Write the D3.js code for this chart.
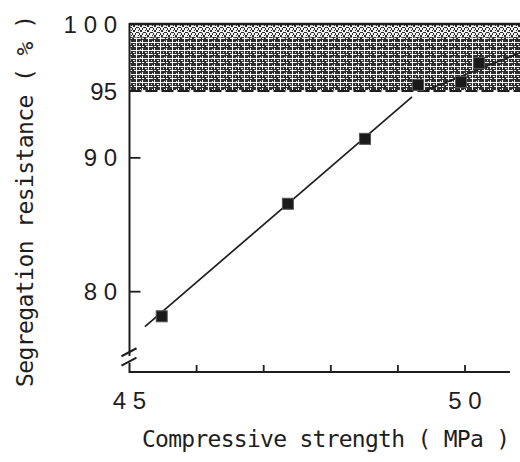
<!DOCTYPE html>
<html><head><meta charset="utf-8">
<script src="https://cdn.jsdelivr.net/npm/d3@7"></script>
<style>
html,body{margin:0;padding:0;background:#fff;}
svg{display:block;}
text{fill:#1e1e1e;}
</style></head>
<body>
<svg id="chart" width="520" height="462"></svg>
<script>
// ---- data ----
const strength   = [45.48, 47.36, 48.51, 49.30, 49.94, 50.21];   // MPa
const resistance = [78.16, 86.57, 91.42, 95.45, 95.67, 97.09];   // %
const fit1X = [45.23, 49.21];
const fit1Y = [77.39, 94.55];
const fit2X = [49.43, 50.82];
const fit2Y = [95.07, 97.84];
const bandLow = 95, bandHigh = 100;
const yTickValues = [100, 95, 90, 80];
const yTickLabels = ["1 0 0", "95", "9 0", "8 0"];
const xTickValues = [46, 47, 48, 49, 50];
const xLabelValues = [45, 50];
const xLabelTexts = ["4 5", "5 0"];
const xTitle = "Compressive strength ( MPa )";
const yTitle = "Segregation resistance ( % )";

// ---- scales ----
const x = d3.scaleLinear().domain([45, 50.67]).range([129.5, 510]);
const y = d3.scaleLinear().domain([74, 100]).range([372, 24]);

const svg = d3.select("#chart");
const defs = svg.append("defs");
// grid-like mottled texture for the band
const pat = defs.append("pattern").attr("id","grid").attr("patternUnits","userSpaceOnUse")
  .attr("width",12).attr("height",8);
pat.append("rect").attr("width",12).attr("height",8).attr("fill","#2e2e2e");
[[0,2,12,1],[2,6,7,1],[4,0,1,8],[10,0,1,5],[7,4,1,1],[1,4,2,1],[10,6,2,1],[8,1,1,1]].forEach(r=>{
  pat.append("rect").attr("x",r[0]).attr("y",r[1]).attr("width",r[2]).attr("height",r[3]).attr("fill","#f4f4f4");
});
const pat2 = defs.append("pattern").attr("id","dots").attr("patternUnits","userSpaceOnUse")
  .attr("width",7).attr("height",5);
pat2.append("rect").attr("width",7).attr("height",5).attr("fill","#f2f2f2");
[[0,0,2,2],[3,2,3,1],[2,3,1,2],[5,0,1,1],[6,3,1,2]].forEach(r=>{
  pat2.append("rect").attr("x",r[0]).attr("y",r[1]).attr("width",r[2]).attr("height",r[3]).attr("fill","#2a2a2a");
});

// ---- band ----
svg.append("rect")
  .attr("x", x(45)).attr("y", y(bandHigh))
  .attr("width", x(51) - x(45)).attr("height", y(bandLow) - y(bandHigh))
  .attr("fill", "url(#grid)");
svg.append("rect")
  .attr("x", x(45)).attr("y", y(bandHigh))
  .attr("width", x(51) - x(45)).attr("height", y(99) - y(bandHigh))
  .attr("fill", "url(#dots)");
svg.append("line")
  .attr("x1", x(45)).attr("x2", x(51)).attr("y1", y(bandHigh)).attr("y2", y(bandHigh))
  .attr("stroke", "#1e1e1e").attr("stroke-width", 2.5);
svg.append("line")
  .attr("x1", x(45)).attr("x2", x(51)).attr("y1", y(bandLow)).attr("y2", y(bandLow))
  .attr("stroke", "#1e1e1e").attr("stroke-width", 2).attr("stroke-dasharray","12 4");

// ---- axes ----
const axStroke = "#1e1e1e";
// x axis
svg.append("line").attr("x1", x(45)).attr("x2", x(50.67)).attr("y1", y(74)).attr("y2", y(74))
  .attr("stroke", axStroke).attr("stroke-width", 2);
svg.selectAll(".xt").data(xTickValues).join("line")
  .attr("x1", d => x(d)).attr("x2", d => x(d)).attr("y1", y(74)).attr("y2", y(74) - 7)
  .attr("stroke", axStroke).attr("stroke-width", 1.8);
// y axis with break
svg.append("line").attr("x1", x(45)).attr("x2", x(45)).attr("y1", y(100) - 1).attr("y2", y(75.2))
  .attr("stroke", axStroke).attr("stroke-width", 2);
svg.append("line").attr("x1", x(45)).attr("x2", x(45)).attr("y1", y(74.7)).attr("y2", y(74) + 1)
  .attr("stroke", axStroke).attr("stroke-width", 2);
[75.55, 74.85].forEach(v => {
  svg.append("line")
    .attr("x1", x(45) - 8).attr("y1", y(v) + 5)
    .attr("x2", x(45) + 7).attr("y2", y(v) - 3)
    .attr("stroke", axStroke).attr("stroke-width", 2);
});
svg.selectAll(".yt").data([90, 80]).join("line")
  .attr("x1", x(45)).attr("x2", x(45) + 11).attr("y1", d => y(d)).attr("y2", d => y(d))
  .attr("stroke", axStroke).attr("stroke-width", 1.8);

// tick labels
svg.selectAll(".yl").data(yTickValues).join("text")
  .attr("x", 117).attr("y", d => y(d)).attr("dy", "0.36em")
  .attr("text-anchor", "end")
  .attr("font-family", "'Liberation Sans', Arial, sans-serif")
  .attr("font-size", 24)
  .text((d, i) => yTickLabels[i]);
svg.selectAll(".xl").data(xLabelValues).join("text")
  .attr("x", d => x(d)).attr("y", 400).attr("dy", "0.36em")
  .attr("text-anchor", "middle")
  .attr("font-family", "'Liberation Sans', Arial, sans-serif")
  .attr("font-size", 24)
  .text((d, i) => xLabelTexts[i]);

// axis titles
svg.append("text").attr("x", 326).attr("y", 447).attr("text-anchor", "middle")
  .attr("font-family", "'DejaVu Sans Mono', monospace").attr("font-size", 23)
  .attr("textLength", 368).attr("lengthAdjust","spacing")
  .text(xTitle);
svg.append("text").attr("transform", "translate(33,201) rotate(-90)").attr("text-anchor", "middle")
  .attr("font-family", "'DejaVu Sans Mono', monospace").attr("font-size", 23)
  .attr("textLength", 372).attr("lengthAdjust","spacing")
  .text(yTitle);

// ---- fit lines ----
const line = d3.line().x(d => x(d[0])).y(d => y(d[1]));
svg.append("path").datum(fit1X.map((v, i) => [v, fit1Y[i]]))
  .attr("d", line).attr("fill", "none").attr("stroke", "#1e1e1e").attr("stroke-width", 1.7);
svg.append("path").datum(fit2X.map((v, i) => [v, fit2Y[i]]))
  .attr("d", line).attr("fill", "none").attr("stroke", "#1e1e1e").attr("stroke-width", 1.7);

// ---- points ----
svg.selectAll(".pt").data(strength.map((v, i) => [v, resistance[i]])).join("rect")
  .attr("x", d => x(d[0]) - 5.5).attr("y", d => y(d[1]) - 5.5)
  .attr("width", 11).attr("height", 11)
  .attr("fill", "#1a1a1a").attr("stroke", "#555").attr("stroke-width", 1);
</script>
</body></html>
